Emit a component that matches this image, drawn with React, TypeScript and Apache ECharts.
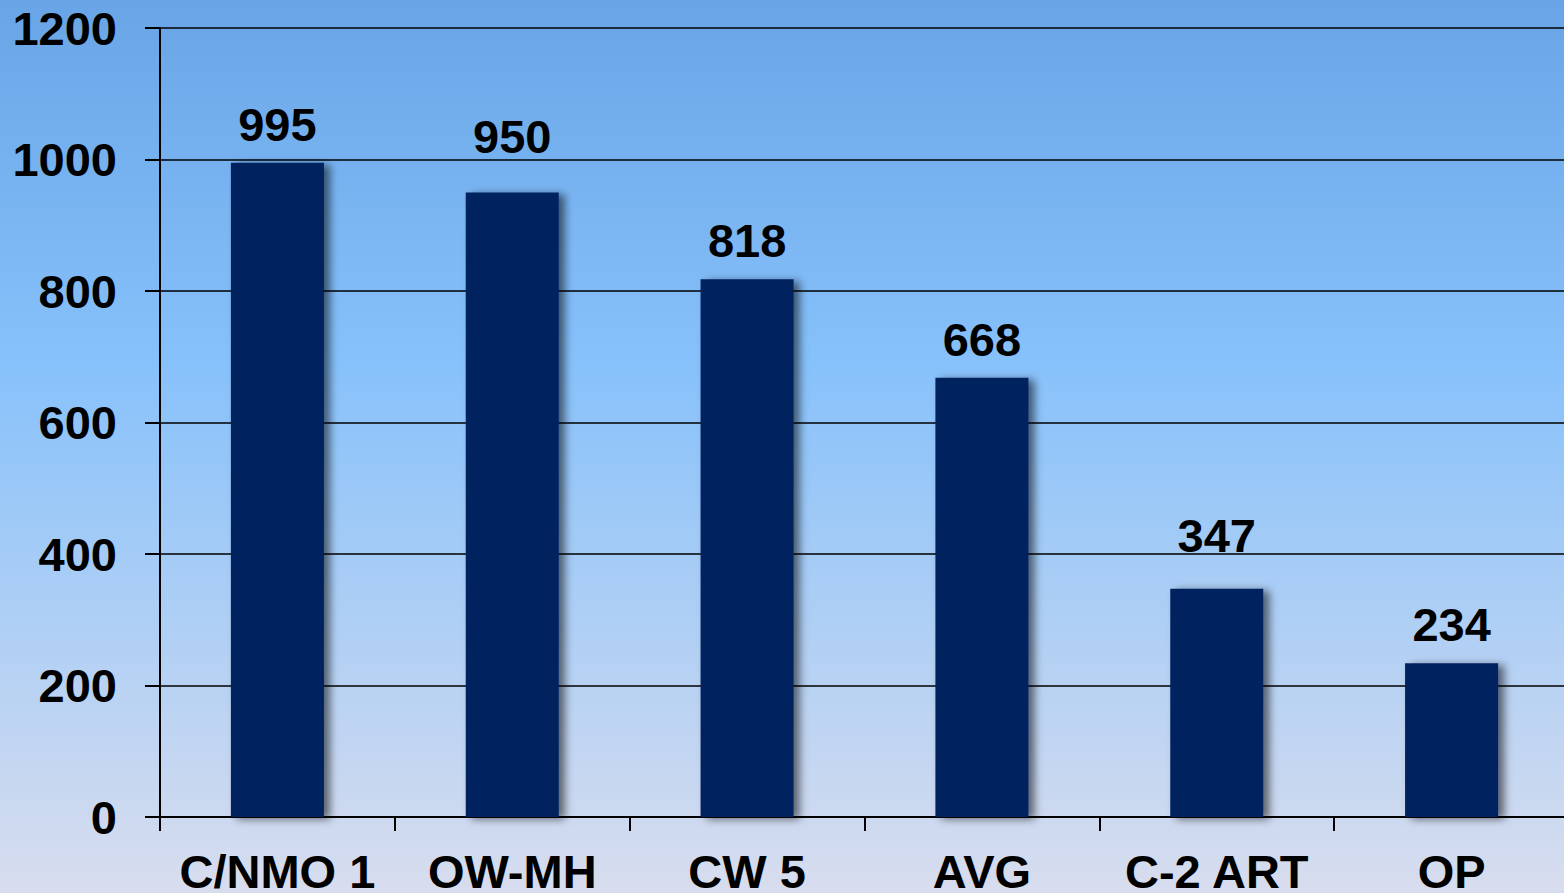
import React, { useEffect, useRef } from "react";
import * as echarts from "echarts";

const categories = ["C/NMO 1", "OW-MH", "CW 5", "AVG", "C-2 ART", "OP"];
const values = [995, 950, 818, 668, 347, 234];
const yTicks = { min: 0, max: 1200, interval: 200 };

// labels that the original raised to clear a gridline
const raisedLabels: Record<number, number> = { 1: -17, 4: -15 };

export default function App() {
  const ref = useRef<HTMLDivElement>(null);
  useEffect(() => {
    if (!ref.current) return;
    const chart = echarts.init(ref.current, null, { renderer: "svg" });
    const font = "'Liberation Sans', Arial, sans-serif";
    chart.setOption({
      animation: false,
      backgroundColor: new echarts.graphic.LinearGradient(0, 0, 0, 1, [
        { offset: 0, color: "#69a4e6" },
        { offset: 0.4, color: "#86c1fb" },
        { offset: 1, color: "#d8ddee" },
      ]),
      grid: {
        left: 160,
        right: -5,
        top: 28,
        bottom: 76,
        containLabel: false,
        outerBoundsMode: "none",
      },
      xAxis: {
        type: "category",
        data: categories,
        axisLine: { show: true, lineStyle: { color: "#000", width: 2 } },
        axisTick: { show: true, length: 14, lineStyle: { color: "#000", width: 2 } },
        axisLabel: {
          interval: 0,
          margin: 31,
          color: "#000",
          fontFamily: font,
          fontWeight: "bold",
          fontSize: 47,
        },
      },
      yAxis: {
        type: "value",
        min: yTicks.min,
        max: yTicks.max,
        interval: yTicks.interval,
        axisLine: { show: true, lineStyle: { color: "#000", width: 2 } },
        axisTick: { show: true, length: 15, lineStyle: { color: "#000", width: 2 } },
        splitLine: { show: true, lineStyle: { color: "#000", width: 1.5 } },
        axisLabel: {
          margin: 43,
          color: "#000",
          fontFamily: font,
          fontWeight: "bold",
          fontSize: 47,
          formatter: (v: number) => String(v),
        },
      },
      series: [
        {
          type: "bar",
          data: values.map((v, i) =>
            raisedLabels[i] !== undefined
              ? { value: v, label: { offset: [0, raisedLabels[i]] } }
              : v
          ),
          barWidth: 93,
          itemStyle: {
            color: "#00205f",
            shadowColor: "rgba(0,0,0,0.55)",
            shadowBlur: 8,
            shadowOffsetX: 6,
            shadowOffsetY: 2,
          },
          label: {
            show: true,
            position: "top",
            distance: 15,
            color: "#000",
            fontFamily: font,
            fontWeight: "bold",
            fontSize: 47,
          },
        },
      ],
    });
    return () => chart.dispose();
  }, []);
  return (
    <div
      ref={ref}
      style={{ position: "absolute", left: 0, top: 0, width: 1564, height: 893 }}
    />
  );
}
